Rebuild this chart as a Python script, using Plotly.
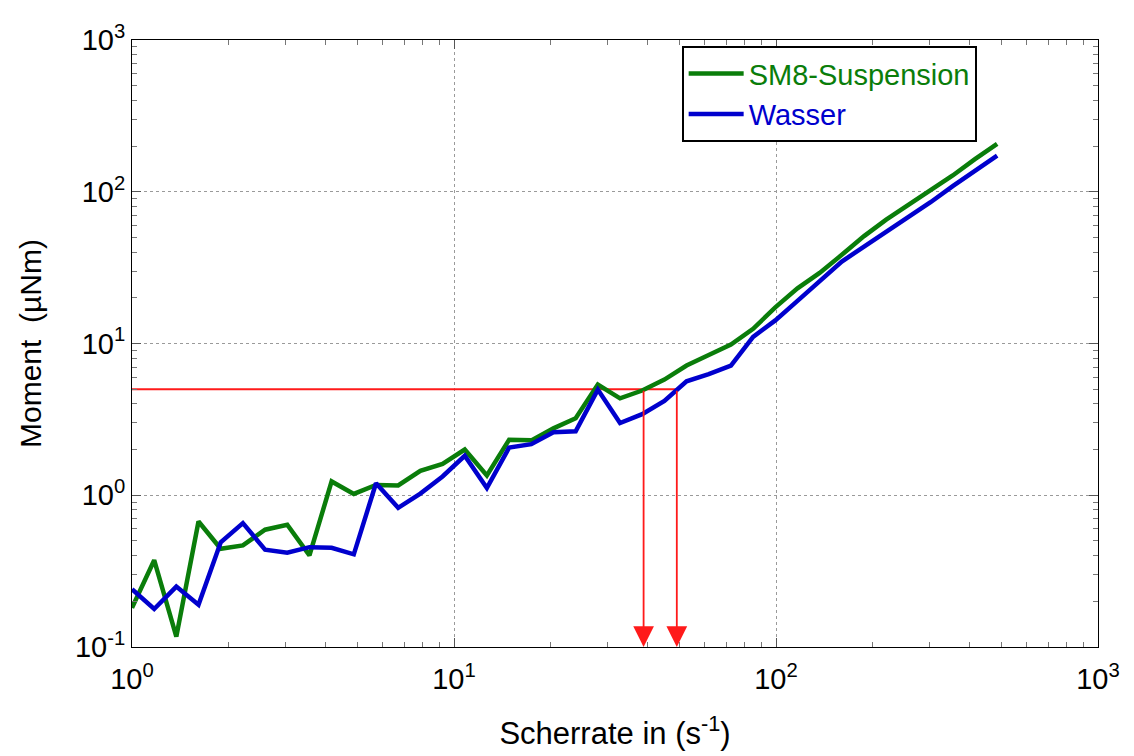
import math
import plotly.graph_objects as go

# Shear rate (1/s)
scherrate = [1.000, 1.172, 1.373, 1.609, 1.886, 2.210, 2.590, 3.035, 3.557, 4.168,
             4.885, 5.725, 6.709, 7.862, 9.214, 10.80, 12.65, 14.83, 17.38, 20.36,
             23.87, 27.97, 32.78, 38.41, 45.02, 52.75, 61.82, 72.45, 84.90, 99.50,
             116.6, 136.6, 160.1, 187.7, 219.9, 257.7, 302.0, 353.9, 414.8, 486.1]

# Moment (µNm)
sm8_suspension = [0.181, 0.373, 0.117, 0.671, 0.444, 0.467, 0.593, 0.639, 0.402, 1.233,
                  1.02, 1.17, 1.16, 1.45, 1.61, 2.00, 1.35, 2.32, 2.30, 2.76,
                  3.22, 5.36, 4.35, 4.90, 5.78, 7.16, 8.40, 9.85, 12.5, 17.3,
                  23.1, 29.2, 38.4, 51.0, 65.5, 82.0, 101.5, 128, 164, 207]

wasser = [0.240, 0.178, 0.250, 0.190, 0.490, 0.655, 0.438, 0.418, 0.455, 0.451,
          0.408, 1.20, 0.827, 1.026, 1.33, 1.82, 1.115, 2.06, 2.17, 2.60,
          2.64, 4.97, 2.99, 3.42, 4.18, 5.64, 6.29, 7.16, 11.06, 14.2,
          19.1, 25.8, 34.7, 43.5, 54.4, 69.2, 85.3, 109, 137, 173]

# Red marker lines
moment_level = 5.0
rate_suspension = 38.8
rate_wasser = 49.2
x_start = 1.0
y_floor = 0.1

decade_vals = [1, 10, 100, 1000]
decade_text = ["10<sup>0</sup>", "10<sup>1</sup>", "10<sup>2</sup>", "10<sup>3</sup>"]
ydecade_vals = [0.1, 1, 10, 100, 1000]
ydecade_text = ["10<sup>-1</sup>", "10<sup>0</sup>", "10<sup>1</sup>", "10<sup>2</sup>", "10<sup>3</sup>"]

GREEN = "#0a7d0a"
BLUE = "#0000cd"
RED = "#ff1a1a"
FONT = "Liberation Sans, Arial"

fig = go.Figure()
fig.add_trace(go.Scatter(x=[x_start, rate_wasser], y=[moment_level, moment_level], mode="lines",
                         line=dict(color=RED, width=2), showlegend=False, hoverinfo="skip"))
fig.add_trace(go.Scatter(x=scherrate, y=sm8_suspension, mode="lines",
                         name="<span style='color:%s'>SM8-Suspension</span>" % GREEN,
                         line=dict(color=GREEN, width=4.5)))
fig.add_trace(go.Scatter(x=scherrate, y=wasser, mode="lines",
                         name="<span style='color:%s'>Wasser</span>" % BLUE,
                         line=dict(color=BLUE, width=4.5)))

for r in [rate_suspension, rate_wasser]:
    fig.add_annotation(x=math.log10(r), y=math.log10(y_floor), xref="x", yref="y",
                       ax=math.log10(r), ay=math.log10(moment_level), axref="x", ayref="y",
                       showarrow=True, arrowhead=2, arrowsize=2.3, arrowwidth=1.8,
                       arrowcolor=RED, text="", standoff=0)

minor_x = [m * 10 ** d for d in range(0, 3) for m in range(2, 10)]
minor_y = [m * 10 ** d for d in range(-1, 3) for m in range(2, 10)]

axis_common = dict(type="log", showline=True, linecolor="black", linewidth=1, mirror="allticks",
                   ticks="inside", ticklen=9, tickcolor="#555", showgrid=True,
                   gridcolor="#9a9a9a", griddash="dot", gridwidth=1, zeroline=False,
                   tickfont=dict(family=FONT, size=29, color="black"))

fig.update_xaxes(**axis_common, range=[0, 3], tickvals=decade_vals, ticktext=decade_text,
                 ticklabelstandoff=6,
                 minor=dict(tickvals=minor_x, ticks="inside", ticklen=5, tickcolor="#777", showgrid=False),
                 title=dict(text="Scherrate in (s<sup>-1</sup>)", standoff=28,
                            font=dict(family=FONT, size=31, color="black")))
fig.update_yaxes(**axis_common, range=[-1, 3], tickvals=ydecade_vals, ticktext=ydecade_text,
                 minor=dict(tickvals=minor_y, ticks="inside", ticklen=5, tickcolor="#777", showgrid=False),
                 title=dict(text="Moment&nbsp;&nbsp;(µNm)", standoff=24,
                            font=dict(family=FONT, size=30, color="black")))

# the page body has an 8 px margin; margins are chosen so the plot area
# lands at x 132..1098, y 32..648 in the window
fig.update_layout(
    width=1126, height=748,
    margin=dict(l=124, r=36, t=24, b=108),
    paper_bgcolor="white", plot_bgcolor="white",
    showlegend=True,
    legend=dict(x=0.569, y=0.990, xanchor="left", yanchor="top",
                bgcolor="white", bordercolor="black", borderwidth=2,
                font=dict(family=FONT, size=29),
                itemwidth=55, tracegroupgap=0),
)

fig.write_html("out.html")
